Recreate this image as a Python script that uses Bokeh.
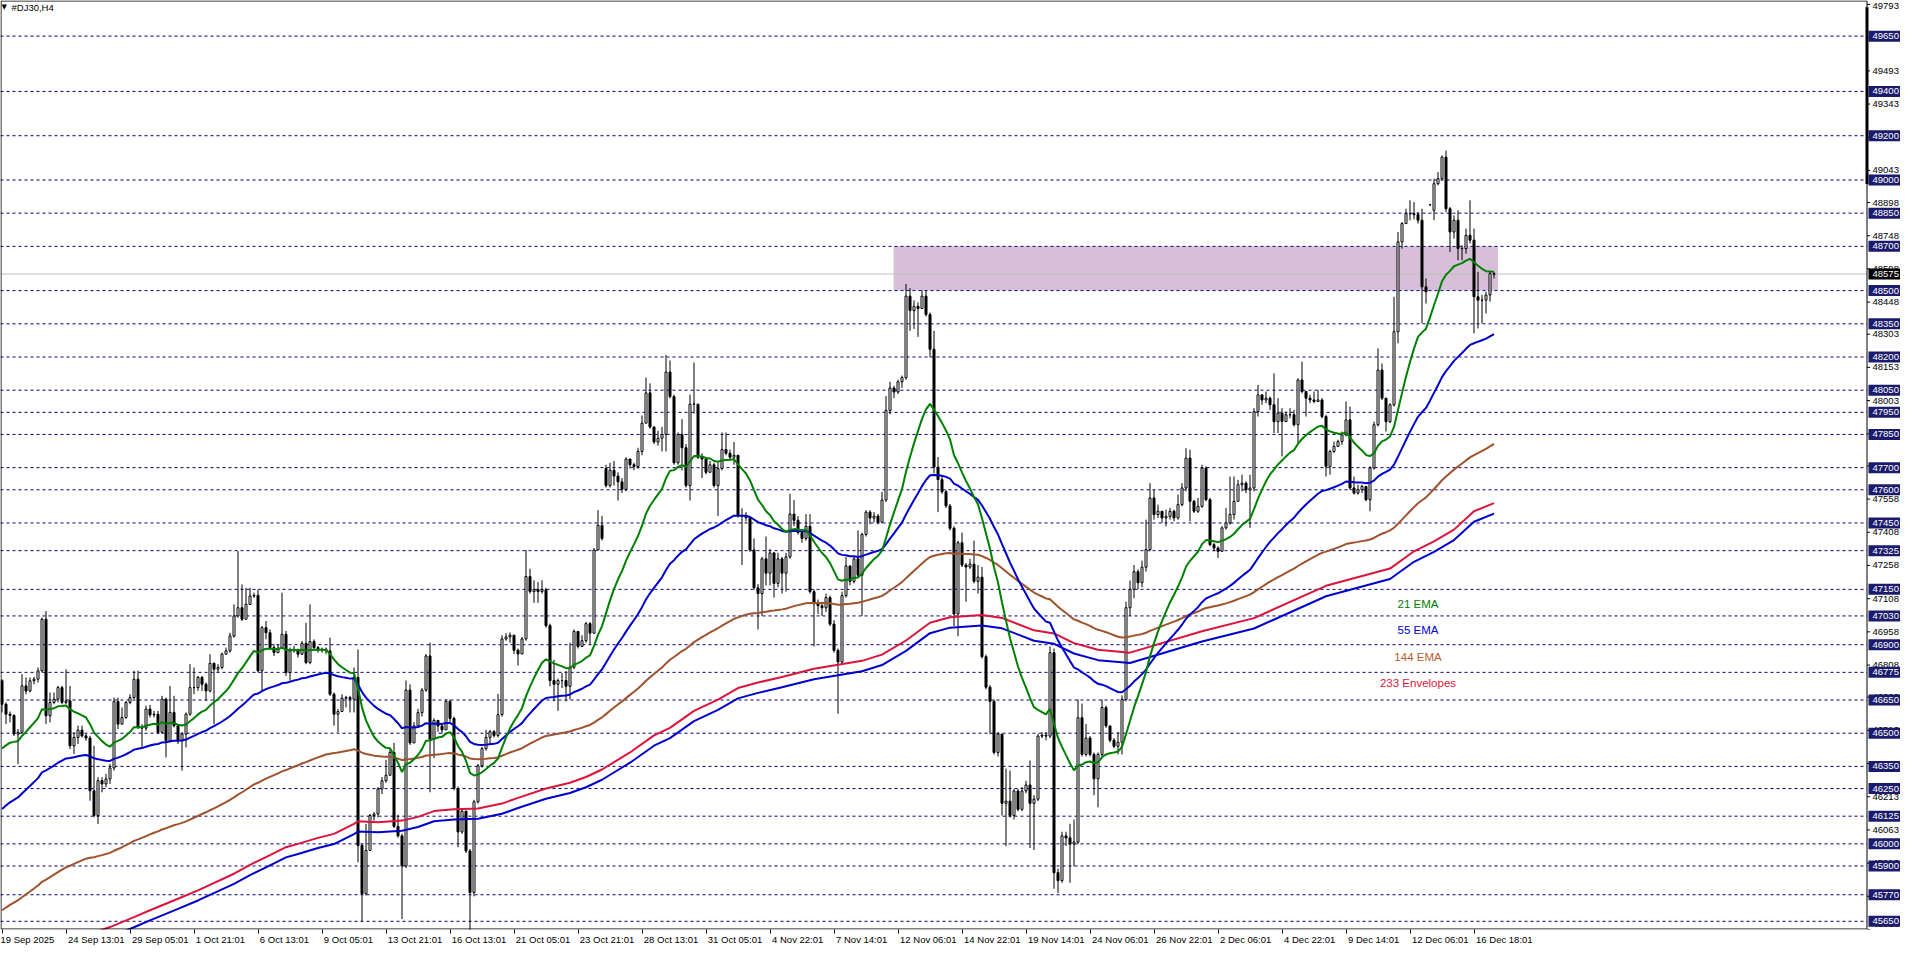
from bokeh.plotting import figure
from bokeh.models import LinearAxis, FixedTicker, Range1d, ColumnDataSource, Label
from bokeh.embed import file_html
from bokeh.resources import INLINE
from bokeh.core.properties import value

# ---------------- data ----------------
closes = [46631,46586,46580,46496,46504,46714,46691,46737,46744,46782,47015,46579,46639,46654,46706,46639,46646,46443,46481,46514,
46488,46478,46240,46128,46286,46271,46293,46343,46643,46541,46571,46639,46661,46744,46526,46523,46609,46583,46586,46504,
46654,46466,46594,46534,46466,46496,46586,46706,46706,46752,46721,46691,46816,46789,46797,46857,46872,46939,47030,47067,
47015,47082,47120,47123,46782,46977,46954,46887,46864,46884,46947,46774,46872,46879,46857,46906,46819,46914,46887,46875,
46879,46872,46676,46586,46598,46658,46661,46654,46752,45993,45775,45970,46128,46135,46248,46285,46310,46413,46079,46036,
45900,46695,46456,46533,46593,46695,46849,46473,46558,46533,46515,46644,46567,46250,46054,46148,45968,45780,46190,46353,
46430,46481,46507,46490,46584,46926,46935,46943,46875,46858,46926,47208,47140,47149,47140,47149,46986,46738,46721,46738,
46738,46712,46798,46960,46892,46918,46995,46952,47328,47439,47380,47619,47688,47662,47636,47602,47739,47713,47705,47773,
47901,48038,47884,47816,47833,47850,48132,48021,47722,47850,47790,47619,47987,47987,47747,47739,47679,47713,47619,47696,
47782,47765,47747,47756,47482,47482,47474,47328,47157,47131,47288,47223,47315,47177,47288,47223,47297,47490,47462,47407,
47380,47435,47140,47085,47076,47067,47113,46993,46874,46822,47122,47256,47186,47288,47214,47398,47499,47472,47481,47453,
47554,47959,48060,48042,48088,48107,48475,48410,48429,48419,48475,48392,48235,47702,47646,47591,47527,47426,47039,47361,
47260,47251,47264,47186,47205,46846,46708,46644,46413,46496,46183,46193,46128,46239,46156,46239,46266,46183,46202,46487,
46491,46487,46864,45870,45834,46036,46027,45999,46008,46570,46404,46478,46404,46294,46404,46616,46533,46468,46441,46459,
46653,47067,47150,47230,47180,47250,47330,47563,47488,47503,47473,47480,47503,47473,47533,47608,47743,47548,47503,47525,
47698,47555,47352,47337,47322,47428,47450,47488,47548,47623,47630,47600,47608,47953,48029,48006,48014,47984,47908,47946,
47908,47939,47939,47894,48096,48044,48014,48006,47999,48006,47931,47706,47773,47796,47818,47848,47916,47608,47585,47600,
47615,47555,47698,47894,48141,48014,47908,47984,48314,48720,48803,48848,48848,48843,48818,48517,48495,48888,48983,49006,
49103,48870,48765,48818,48690,48690,48750,48728,48472,48457,48457,48480,48577,48573]

highs = [46744,46639,46598,46586,46519,46767,46752,46752,46755,46797,47022,47052,46684,46684,46714,46714,46789,46714,46504,46534,
46534,46499,46488,46443,46301,46301,46316,46361,46661,46661,46616,46646,46676,46782,46782,46541,46624,46628,46601,46601,
46669,46661,46714,46669,46541,46504,46594,46812,46797,46759,46759,46729,46857,46819,46812,46864,46887,46954,47082,47323,
47172,47157,47157,47135,47150,46984,47007,46969,46902,46902,47135,46962,46887,46894,46879,46917,46999,47082,46924,46894,
46887,46887,46932,46684,46609,46676,46669,46669,46797,46879,46000,46090,46135,46143,46256,46302,46379,46430,46456,46131,
46045,46738,46721,46550,46610,46704,46858,46909,46567,46558,46541,46652,46652,46575,46259,46156,46071,45977,46199,46362,
46438,46515,46515,46515,46678,46943,46952,46955,46943,46883,46935,47328,47243,47191,47183,47191,47157,46995,46832,46747,
46772,46781,46909,46969,46960,46943,47003,47003,47337,47508,47482,47713,47722,47730,47679,47653,47747,47730,47722,47790,
47936,48107,48081,47884,47867,47884,48209,48184,48030,47859,47919,47807,48030,48175,47961,47765,47747,47730,47722,47722,
47859,47859,47782,47816,47756,47516,47499,47457,47380,47174,47297,47389,47333,47315,47315,47297,47315,47582,47554,47481,
47416,47490,47490,47150,47104,47094,47131,47122,47011,46883,47140,47297,47214,47297,47416,47407,47508,47508,47499,47490,
47591,48024,48088,48070,48097,48116,48530,48511,48456,48447,48502,48502,48401,48318,47748,47665,47600,47536,47435,47370,
47407,47269,47288,47370,47260,47251,46855,46717,46653,46505,46496,46340,46331,46248,46248,46257,46285,46377,46220,46496,
46505,46505,46892,46883,45889,46055,46055,46091,46110,46653,46634,46542,46487,46413,46413,46653,46625,46533,46478,46505,
46671,47094,47190,47260,47240,47280,47465,47630,47600,47533,47503,47510,47518,47510,47578,47630,47788,47781,47555,47563,
47713,47706,47563,47360,47345,47435,47518,47660,47660,47645,47668,47638,47668,47969,48074,48021,48044,48021,48126,48014,
47969,47953,47969,47961,48104,48179,48044,48029,48044,48051,48014,47939,47781,47818,47826,47863,47999,47976,47660,47623,
47623,47608,47706,47908,48239,48171,48014,47991,48472,48765,48810,48870,48908,48900,48855,48870,48555,48892,49006,49036,
49111,49133,48878,48840,48863,48705,48780,48908,48780,48585,48480,48495,48585,48585]

lows = [46594,46541,46549,46488,46361,46496,46676,46684,46721,46729,46774,46541,46549,46631,46639,46631,46631,46428,46406,46451,
46481,46466,46195,46120,46090,46233,46256,46271,46331,46519,46541,46564,46631,46654,46519,46436,46511,46571,46571,46496,
46496,46391,46458,46526,46451,46331,46436,46579,46676,46691,46691,46646,46684,46541,46774,46789,46857,46864,46932,47022,
47007,47060,47082,47112,46774,46691,46924,46879,46849,46864,46887,46759,46737,46864,46842,46854,46812,46812,46872,46864,
46864,46857,46669,46534,46504,46616,46616,46594,46594,45917,45650,45767,46000,46105,46120,46225,46276,46310,46071,46028,
45660,45891,46447,46456,46524,46575,46687,46233,46387,46507,46498,46515,46550,46242,45985,46045,45959,45600,45763,46182,
46345,46421,46447,46481,46481,46575,46918,46909,46858,46806,46858,46918,47131,47089,47089,47131,46977,46712,46644,46601,
46704,46644,46652,46789,46883,46892,46909,46900,46952,47328,47371,47610,47610,47619,47551,47585,47593,47696,47688,47696,
47756,47901,47876,47807,47799,47773,47773,48013,47713,47713,47688,47610,47551,47944,47739,47653,47670,47679,47610,47482,
47688,47756,47739,47713,47474,47260,47457,47320,47149,46969,47030,47168,47168,47113,47159,47131,47140,47288,47435,47398,
47361,47370,47131,46892,47039,47030,47048,46984,46864,46588,46809,47113,47168,47177,47205,47030,47389,47444,47453,47444,
47453,47545,47941,48015,48033,48060,48097,48318,48327,48291,48419,48383,48199,47674,47499,47582,47518,47416,46984,46938,
47251,47094,47242,47177,47131,46837,46699,46496,46404,46395,46128,45990,46119,46110,46147,46147,46229,45981,45972,46193,
46478,46468,46478,45797,45778,45824,45990,45824,45898,45999,46395,46395,46395,46220,46165,46395,46524,46459,46432,46404,
46404,46644,47030,47110,47150,47160,47230,47322,47465,47473,47450,47435,47465,47458,47465,47525,47593,47458,47495,47495,
47518,47548,47345,47322,47292,47322,47420,47443,47465,47555,47593,47585,47428,47593,47931,47984,47991,47961,47856,47856,
47751,47916,47923,47886,47811,48036,47931,47991,47991,47999,47923,47660,47668,47766,47796,47803,47841,47600,47578,47578,
47585,47548,47503,47691,47886,48006,47863,47901,47976,48262,48690,48818,48818,48822,48803,48352,48442,48884,48818,48976,
48998,48855,48675,48735,48637,48637,48667,48713,48307,48329,48352,48397,48450,48555]

first_open = 46737                                   # open of the first bar
gap_opens = {151: 47696, 357: 48888, 358: 48863}      # bars that open away from the previous close

# moving averages: values at the first visible bar
ema21_start = 46431
ema55_start = 46158
ema144_start = 45700
# 233 Envelopes: upper band (bar index, price)
env_upper_bars = [23, 27, 33, 37, 44, 49, 58, 62, 66, 71, 74, 79, 83, 88, 89, 94, 100, 104, 108, 113,
                  119, 125, 129, 136, 142, 146, 150, 157, 163, 167, 173, 179, 184, 189, 195, 203, 209, 215,
                  220, 226, 232, 237, 245, 250, 258, 263, 268, 274, 282, 300, 313, 331, 347, 353, 358, 363,
                  368, 373]
env_upper_vals = [45599, 45624, 45669, 45700, 45752, 45790, 45865, 45905, 45940, 45985, 46000, 46027, 46045,
                  46090, 46102, 46098, 46105, 46122, 46148, 46156, 46160, 46182, 46208, 46250, 46276, 46302,
                  46336, 46413, 46490, 46524, 46601, 46652, 46704, 46729, 46754, 46791, 46809, 46827, 46855,
                  46919, 46999, 47024, 47034, 47021, 46965, 46951, 46907, 46877, 46864, 46961, 47020, 47166,
                  47244, 47322, 47367, 47420, 47503, 47540]
env_dev = 0.0005

level_lines = [49650, 49400, 49200, 49000, 48850, 48700, 48500, 48350, 48200, 48050, 47950, 47850,
               47700, 47600, 47450, 47325, 47150, 47030, 46900, 46775, 46650, 46500, 46350, 46250,
               46125, 46000, 45900, 45770, 45650]
price_ticks = [49793, 49643, 49493, 49343, 49193, 49043, 48898, 48748, 48598, 48448, 48303, 48153,
               48003, 47853, 47708, 47558, 47408, 47258, 47108, 46958, 46808, 46663, 46513, 46363,
               46213, 46063, 45913, 45763, 45613]
current_price = 48575
zone_bottom, zone_top = 48500, 48700
zone_first_bar, zone_last_bar = 223, 374
scroll_top, scroll_bottom = 49780, 48982

date_labels = ["19 Sep 2025", "24 Sep 13:01", "29 Sep 05:01", "1 Oct 21:01", "6 Oct 13:01", "9 Oct 05:01",
               "13 Oct 21:01", "16 Oct 13:01", "21 Oct 05:01", "23 Oct 21:01", "28 Oct 13:01", "31 Oct 05:01",
               "4 Nov 22:01", "7 Nov 14:01", "12 Nov 06:01", "14 Nov 22:01", "19 Nov 14:01", "24 Nov 06:01",
               "26 Nov 22:01", "2 Dec 06:01", "4 Dec 22:01", "9 Dec 14:01", "12 Dec 06:01", "16 Dec 18:01"]
bars_per_label = 16

legend_names = ["21 EMA", "55 EMA", "144 EMA", "233 Envelopes"]
legend_prices = [47083, 46966, 46844, 46727]
legend_colors = ["#008000", "#0000cd", "#b85c30", "#dc143c"]
legend_bar = 354

# ---------------- derived series ----------------
n = len(closes)
opens = [first_open] + closes[:-1]
for k, v in gap_opens.items():
    opens[k] = v
highs = [max(h, o, c) for h, o, c in zip(highs, opens, closes)]
lows = [min(l, o, c) for l, o, c in zip(lows, opens, closes)]
xs = list(range(n))


def ema(vals, period, start):
    a = 2.0 / (period + 1)
    out = [start]
    for v in vals[1:]:
        out.append(out[-1] + a * (v - out[-1]))
    return out


e21 = ema(closes, 21, ema21_start)
e55 = ema(closes, 55, ema55_start)
e144 = ema(closes, 144, ema144_start)
env_mid = [u / (1 + env_dev) for u in env_upper_vals]
env_up = list(env_upper_vals)
env_lo = [m * (1 - env_dev) for m in env_mid]

# ---------------- figure ----------------
NAVY = "#000080"
BOXC = "#1b1b6e"
FONT = "Liberation Sans"
FS = "9.5px"
FRAME_W, FRAME_H = 1900, 931
PXB = 4.0                                  # pixels per bar
x_start = -0.375
x_end = x_start + FRAME_W / PXB
chart_right = x_start + 1866.5 / PXB       # price-scale line
y_lo, y_hi = 45613, 49811
ypp = (y_hi - y_lo) / FRAME_H

p = figure(width=1900, height=947, output_backend="svg", toolbar_location=None,
           x_range=Range1d(x_start, x_end), y_range=Range1d(y_lo, y_hi),
           x_axis_location=None, y_axis_location=None,
           min_border_left=0, min_border_right=0, min_border_top=0, min_border_bottom=16)
p.background_fill_color = "white"
p.border_fill_color = "white"
p.outline_line_color = None
p.xgrid.visible = False
p.ygrid.visible = False

# zone, level lines, bid line
p.quad(left=[zone_first_bar - 0.1], right=[zone_last_bar], bottom=[zone_bottom], top=[zone_top],
       fill_color="#d8bfd8", line_color=None, level="underlay")
p.segment(x0=[x_start] * len(level_lines), x1=[chart_right] * len(level_lines), y0=level_lines, y1=level_lines,
          line_color=NAVY, line_dash="3 3", line_width=1, level="underlay")
p.segment(x0=[x_start], x1=[chart_right], y0=[current_price], y1=[current_price],
          line_color="#c0c0c0", line_width=1, level="underlay")

# candles
src = ColumnDataSource(dict(
    x=xs, h=highs, l=lows,
    top=[max(o, c) for o, c in zip(opens, closes)],
    bot=[min(o, c) for o, c in zip(opens, closes)],
    fill=["white" if c >= o else "black" for o, c in zip(opens, closes)],
))
p.segment(x0="x", y0="l", x1="x", y1="h", source=src, line_color="black", line_width=1)
p.vbar(x="x", width=0.5, top="top", bottom="bot", source=src, fill_color="fill", line_color="black", line_width=1)

# indicators
p.line(env_upper_bars, env_lo, line_color="#0000cd", line_width=2)
p.line(env_upper_bars, env_up, line_color="#dc143c", line_width=2)
p.line(xs, e144, line_color="#a0522d", line_width=2)
p.line(xs, e55, line_color="#0000cd", line_width=2)
p.line(xs, e21, line_color="#008000", line_width=2)

p.text(x=[legend_bar] * len(legend_names), y=legend_prices, text=legend_names, text_color=legend_colors,
       text_align="center", text_baseline="middle", text_font=value(FONT), text_font_size="11.5px")

# chart frame and price scale
p.quad(left=[x_start + 0.5 / PXB], right=[chart_right], top=[y_hi - 0.5 * ypp], bottom=[y_lo + 0.5 * ypp],
       fill_color=None, line_color="black", line_width=1)
p.segment(x0=[chart_right], x1=[chart_right], y0=[scroll_bottom], y1=[scroll_top], line_color="black", line_width=3)
p.segment(x0=[chart_right] * len(price_ticks), x1=[chart_right + 3 / PXB] * len(price_ticks),
          y0=price_ticks, y1=price_ticks, line_color="black", line_width=1)
lab_x = chart_right + 5.5 / PXB
# keep the outermost scale labels inside the picture
tick_label_y = [min(max(t, y_lo + 6 * ypp), y_hi - 6 * ypp) for t in price_ticks]
p.text(x=[lab_x] * len(price_ticks), y=tick_label_y, text=[str(t) for t in price_ticks], text_color="black",
       text_align="left", text_baseline="middle", text_font=value(FONT), text_font_size=FS)
box_x = chart_right + 17.5 / PXB
p.rect(x=[box_x] * len(level_lines), y=level_lines, width=32, height=11, width_units="screen",
       height_units="screen", fill_color=BOXC, line_color=None)
p.text(x=[lab_x] * len(level_lines), y=level_lines, text=[str(t) for t in level_lines], text_color="white",
       text_align="left", text_baseline="middle", text_font=value(FONT), text_font_size=FS)
p.rect(x=[box_x], y=[current_price], width=32, height=11, width_units="screen", height_units="screen",
       fill_color="black", line_color=None)
p.text(x=[lab_x], y=[current_price], text=[str(current_price)], text_color="white",
       text_align="left", text_baseline="middle", text_font=value(FONT), text_font_size=FS)

# time axis (labels start just right of their tick, like the terminal)
char_w = {" ": .278, ":": .278, "S": .667, "e": .556, "p": .556, "O": .778, "c": .5, "t": .278,
          "N": .722, "o": .556, "v": .5, "D": .722}
fpx = 9.5


def left_pad(s, gap=1.5):
    w = sum(char_w.get(ch, .556) for ch in s) * fpx
    k = int(round((w + 2 * gap) / (0.278 * fpx)))
    return "\u00a0" * k + s


date_ticks = [i * bars_per_label for i in range(len(date_labels))]
overrides = {t: (s if t == 0 else left_pad(s)) for t, s in zip(date_ticks, date_labels)}
xaxis = LinearAxis(ticker=FixedTicker(ticks=date_ticks, minor_ticks=[]), major_label_overrides=overrides)
xaxis.major_tick_out = 4
xaxis.major_tick_in = 0
xaxis.major_tick_line_color = "black"
xaxis.axis_line_color = None
xaxis.major_label_standoff = 0
xaxis.major_label_text_font = FONT
xaxis.major_label_text_font_size = FS
xaxis.major_label_text_color = "black"
p.add_layout(xaxis, "below")

# title
p.add_layout(Label(x=x_start, y=y_hi, x_offset=1, y_offset=-2, text="\u25bc", text_baseline="top",
                   text_font="DejaVu Sans", text_font_size="7px", text_color="black"))
p.add_layout(Label(x=x_start, y=y_hi, x_offset=11, y_offset=-1, text="#DJ30,H4", text_baseline="top",
                   text_font=FONT, text_font_size=FS, text_color="black"))

open("out.html", "w").write(file_html(p, INLINE))
